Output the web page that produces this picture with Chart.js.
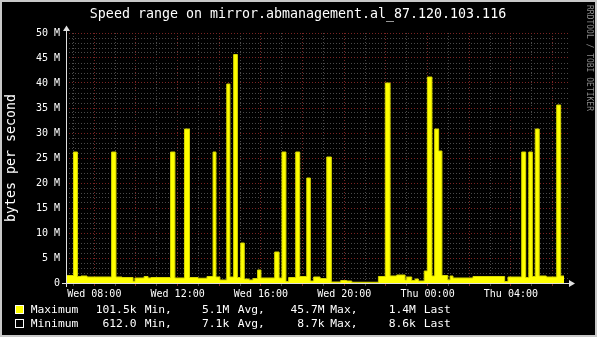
<!DOCTYPE html>
<html>
<head>
<meta charset="utf-8">
<script src="https://cdn.jsdelivr.net/npm/chart.js@4.4.0/dist/chart.umd.min.js"></script>
<style>
  html, body { margin: 0; padding: 0; background: #000; }
  canvas { display: block; }
</style>
</head>
<body>
<canvas id="speedChart" width="597" height="337"></canvas>
<script>
// hours since Wed 00:00 where the maximum speed changes, value holds until the next entry (MB/s)
const maxHours = [
  6.64, 7.00, 7.19, 7.36, 7.65, 8.83, 9.04, 9.33, 9.86, 9.95,
  10.39, 10.58, 10.72, 11.66, 11.87, 12.33, 12.57, 12.98, 13.41, 13.70,
  13.84, 14.03, 14.36, 14.51, 14.69, 14.87, 15.03, 15.20, 15.43, 15.62,
  15.84, 16.00, 16.66, 16.87, 17.01, 17.20, 17.33, 17.67, 17.86, 18.20,
  18.37, 18.53, 18.84, 19.16, 19.38, 19.83, 20.12, 20.36, 21.64, 21.97,
  22.20, 22.52, 22.92, 23.00, 23.24, 23.40, 23.56, 23.84, 23.99, 24.21,
  24.34, 24.53, 24.69, 24.97, 25.08, 25.22, 26.18, 27.70, 27.86, 28.52,
  28.71, 28.86, 29.03, 29.17, 29.36, 29.70, 30.20, 30.39, 30.55
];
const maxValues = [
  1.5, 26.2, 1.3, 1.4, 1.2, 26.2, 1.2, 1.1, 0.3, 1.0,
  1.3, 1.0, 1.1, 26.2, 1.0, 30.8, 1.1, 0.95, 1.3, 26.2,
  1.2, 0.6, 39.8, 1.2, 45.7, 1.1, 8.0, 0.8, 0.6, 0.9,
  2.6, 1.0, 6.2, 1.0, 26.2, 0.3, 1.1, 26.2, 1.3, 21.0,
  0.4, 1.2, 0.9, 25.2, 0.2, 0.5, 0.4, 0.15, 1.3, 40.0,
  1.4, 1.6, 0.6, 1.2, 0.5, 0.8, 0.4, 2.4, 41.2, 1.4,
  30.8, 26.4, 1.5, 0.6, 1.4, 1.0, 1.3, 0.3, 1.2, 26.2,
  1.1, 26.2, 1.3, 30.8, 1.4, 1.2, 35.6, 1.4, 1.4
];

// minimum stays at a few kB/s for the whole day
const minHours = [6.64, 30.55];
const minValues = [0.0086, 0.0086];

const dayNames = ["Wed", "Thu"];

// legend rows (GPRINT style)
const legendNames = ["Maximum", "Minimum"];
const legendMin = ["101.5k", "612.0"];
const legendAvg = ["5.1M", "7.1k"];
const legendMax = ["45.7M", "8.7k"];
const legendLast = ["1.4M", "8.6k"];

const MONO = "'DejaVu Sans Mono', 'Liberation Mono', monospace";
const RED_GRID = "#7a2424";
const GRAY_GRID = "#4a4a4a";

const rrdFrame = {
  id: "rrdFrame",
  beforeDraw(chart) {
    const ctx = chart.ctx;
    ctx.save();
    ctx.fillStyle = "#c8c8c8";
    ctx.fillRect(0, 0, chart.width, chart.height);
    ctx.fillStyle = "#000";
    ctx.fillRect(2, 2, chart.width - 4, chart.height - 4);
    ctx.restore();
  },
  afterDraw(chart) {
    const ctx = chart.ctx;
    const area = chart.chartArea;
    ctx.save();

    // title
    ctx.fillStyle = "#fff";
    ctx.font = "13.3px " + MONO;
    ctx.textAlign = "center";
    ctx.textBaseline = "alphabetic";
    ctx.fillText("Speed range on mirror.abmanagement.al_87.120.103.116", 298, 18);

    // axis lines with arrows
    ctx.strokeStyle = "#e0e0e0";
    ctx.fillStyle = "#e0e0e0";
    ctx.lineWidth = 1;
    ctx.beginPath();
    ctx.moveTo(62, area.bottom + 0.5);
    ctx.lineTo(area.right, area.bottom + 0.5);
    ctx.moveTo(area.left + 0.5, area.bottom + 4);
    ctx.lineTo(area.left + 0.5, area.top - 2);
    ctx.stroke();
    ctx.beginPath();
    ctx.moveTo(area.right - 1, area.bottom - 3);
    ctx.lineTo(area.right + 5, area.bottom + 0.5);
    ctx.lineTo(area.right - 1, area.bottom + 4);
    ctx.closePath();
    ctx.fill();
    ctx.beginPath();
    ctx.moveTo(area.left - 3, area.top - 2);
    ctx.lineTo(area.left + 0.5, area.top - 7.5);
    ctx.lineTo(area.left + 4, area.top - 2);
    ctx.closePath();
    ctx.fill();

    // y axis title
    ctx.save();
    ctx.translate(12, (area.top + area.bottom) / 2);
    ctx.rotate(-Math.PI / 2);
    ctx.fillStyle = "#fff";
    ctx.font = "13.3px " + MONO;
    ctx.textAlign = "center";
    ctx.textBaseline = "middle";
    ctx.fillText("bytes per second", 0, 0);
    ctx.restore();

    // watermark
    ctx.save();
    ctx.translate(589, 5);
    ctx.rotate(Math.PI / 2);
    ctx.fillStyle = "#8a8a8a";
    ctx.font = "8px " + MONO;
    ctx.textAlign = "left";
    ctx.textBaseline = "middle";
    ctx.fillText("RRDTOOL / TOBI OETIKER", 0, 0);
    ctx.restore();

    // legend
    const boxColors = ["#ffff00", "#000000"];
    ctx.font = "11.3px " + MONO;
    ctx.textBaseline = "alphabetic";
    for (let i = 0; i < legendNames.length; i++) {
      const base = 313 + i * 14;
      ctx.fillStyle = boxColors[i];
      ctx.fillRect(15, base - 8, 9, 9);
      ctx.strokeStyle = "#fff";
      ctx.strokeRect(15.5, base - 7.5, 8, 8);
      ctx.fillStyle = "#fff";
      ctx.textAlign = "left";
      ctx.fillText(legendNames[i], 30.7, base);
      ctx.fillText("Min,", 144.7, base);
      ctx.fillText("Avg,", 237.7, base);
      ctx.fillText("Max,", 330.3, base);
      ctx.fillText("Last", 423.7, base);
      ctx.textAlign = "right";
      ctx.fillText(legendMin[i], 136.5, base);
      ctx.fillText(legendAvg[i], 229.2, base);
      ctx.fillText(legendMax[i], 324.5, base);
      ctx.fillText(legendLast[i], 415.9, base);
    }
    ctx.restore();
  }
};

const ctx = document.getElementById("speedChart");

new Chart(ctx, {
  type: "line",
  data: {
    datasets: [
      {
        label: "Maximum",
        data: maxHours.map((h, i) => ({ x: h, y: maxValues[i] })),
        stepped: true,
        fill: "origin",
        backgroundColor: "#ffff00",
        borderColor: "#d4d400",
        borderWidth: 1,
        pointRadius: 0,
      },
      {
        label: "Minimum",
        data: minHours.map((h, i) => ({ x: h, y: minValues[i] })),
        stepped: true,
        fill: "origin",
        backgroundColor: "#000000",
        borderWidth: 0,
        pointRadius: 0,
      },
    ],
  },
  options: {
    responsive: false,
    devicePixelRatio: 1,
    animation: false,
    events: [],
    layout: { padding: { top: 33, right: 27, bottom: 34, left: 0 } },
    plugins: { legend: { display: false }, tooltip: { enabled: false }, title: { display: false } },
    scales: {
      x: {
        type: "linear",
        min: 6.641,
        max: 30.838,
        afterFit(scale) { scale.height = 20; },
        border: { display: false, dash: [1, 2] },
        grid: {
          color: (c) => (c.tick && c.tick.value % 2 === 0 ? RED_GRID : GRAY_GRID),
          tickColor: (c) => (c.tick && c.tick.value % 2 === 0 ? RED_GRID : GRAY_GRID),
          drawTicks: true,
          tickLength: 3,
        },
        ticks: {
          stepSize: 1,
          autoSkip: false,
          maxRotation: 0,
          includeBounds: false,
          padding: 2,
          color: "#fff",
          font: { family: MONO, size: 10 },
          callback: (v) => {
            if (v % 4 !== 0) return "";
            const day = dayNames[Math.floor(v / 24)];
            const hh = String(v % 24).padStart(2, "0");
            return day + " " + hh + ":00";
          },
        },
      },
      y: {
        min: 0,
        max: 50,
        afterFit(scale) { scale.width = 66; },
        border: { display: false, dash: [1, 2] },
        grid: {
          color: (c) => (c.tick && c.tick.value % 5 === 0 ? RED_GRID : GRAY_GRID),
          drawTicks: false,
        },
        ticks: {
          stepSize: 1,
          autoSkip: false,
          padding: 6,
          color: "#fff",
          font: { family: MONO, size: 10 },
          callback: (v) => (v % 5 !== 0 ? "" : v === 0 ? "0" : v + " M"),
        },
      },
    },
  },
  plugins: [rrdFrame],
});
</script>
</body>
</html>
